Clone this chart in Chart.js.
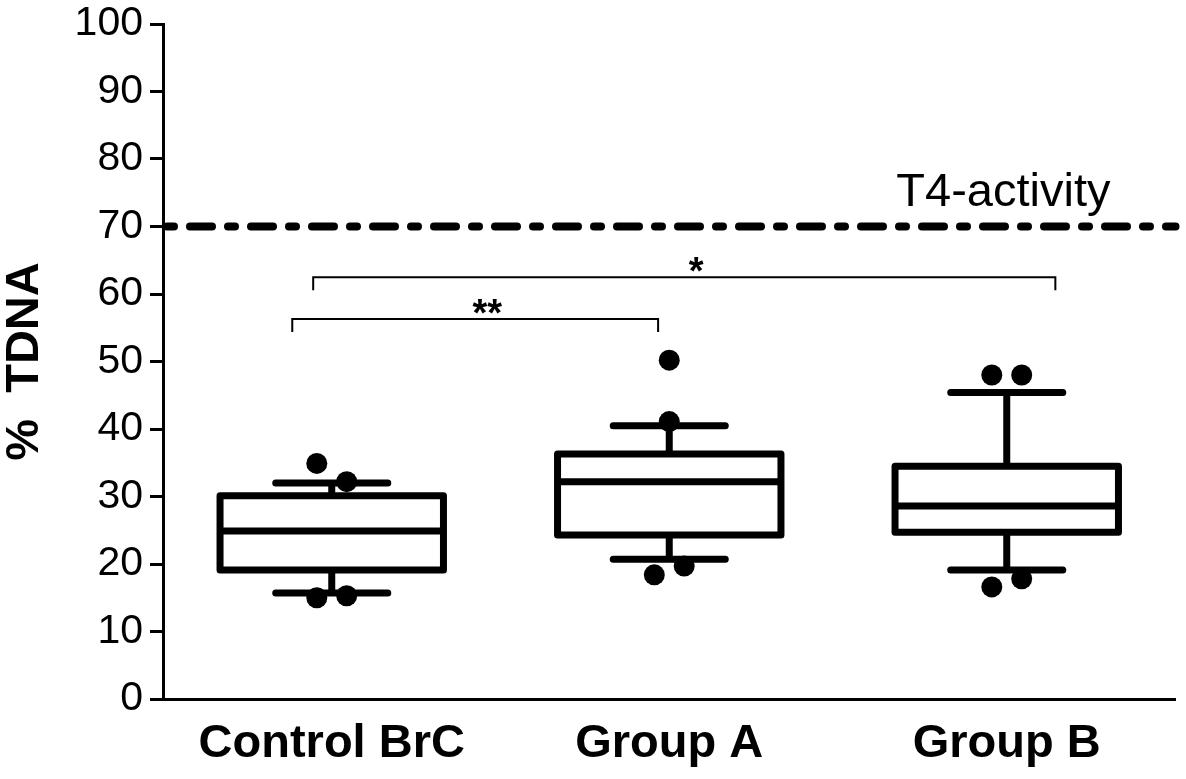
<!DOCTYPE html>
<html>
<head>
<meta charset="utf-8">
<script src="https://cdn.jsdelivr.net/npm/chart.js@4/dist/chart.umd.min.js"></script>
<style>
  html, body { margin: 0; padding: 0; background: #fff; }
  #wrap { width: 1186px; height: 779px; }
</style>
</head>
<body>
<div id="wrap"><canvas id="chart"></canvas></div>
<script>
// ── Data ────────────────────────────────────────────────────────────
const groups      = ['Control BrC', 'Group A', 'Group B'];
const whiskerLow  = [15.7, 20.7, 19.1];
const q1          = [19.1, 24.3, 24.7];
const median      = [24.9, 32.2, 28.6];
const q3          = [30.1, 36.3, 34.5];
const whiskerHigh = [32.0, 40.5, 45.4];
// points beyond the whiskers, listed left to right
const pointsHigh  = [[34.9, 32.2], [50.2, 41.1], [48.0, 48.0]];
const pointsLow   = [[15.0, 15.3], [18.4, 19.7], [16.6, 17.8]];

const yMin = 0, yMax = 100, yStep = 10;
const t4Activity = 70;
const t4Label = 'T4-activity';

// significance brackets: group indices, height (% TDNA), label
const brackets = [
  { from: 0, to: 2, y: 62.5, label: '*'  },
  { from: 0, to: 1, y: 56.3, label: '**' },
];

// ── Style ───────────────────────────────────────────────────────────
const FONT   = "'Liberation Sans', Arial, Helvetica, sans-serif";
const INK    = '#000';
const JITTER = 0.0443;          // category units, for dots that overlap
const BOX_HALF = 0.331;         // category units
const CAP_HALF = 0.166;
const BRACKET_INSET = [[-0.055, 0.144], [-0.117, -0.033]]; // category units
const BRACKET_DROP = 13;

function spread(list) {
  const pts = [];
  list.forEach((vals, g) => {
    const close = vals.length === 2 && Math.abs(vals[0] - vals[1]) < 3.5;
    vals.forEach((v, k) => {
      const dx = close ? (k === 0 ? -JITTER : JITTER) : 0;
      pts.push({ x: g + dx, y: v });
    });
  });
  return pts;
}

const dots = [...spread(pointsHigh), ...spread(pointsLow)];

// ── Box + whisker plugin ────────────────────────────────────────────
const boxPlot = {
  id: 'boxPlot',
  beforeDatasetsDraw(chart) {
    const { ctx, scales: { x, y } } = chart;
    const unit = x.getPixelForValue(1) - x.getPixelForValue(0);
    ctx.save();
    ctx.strokeStyle = INK;
    ctx.lineWidth = 7;
    ctx.lineJoin = 'round';
    groups.forEach((g, i) => {
      const cx = x.getPixelForValue(i);
      const bl = cx - BOX_HALF * unit, br = cx + BOX_HALF * unit;
      const yt = y.getPixelForValue(q3[i]), yb = y.getPixelForValue(q1[i]);
      const ym = y.getPixelForValue(median[i]);
      const yh = y.getPixelForValue(whiskerHigh[i]);
      const yl = y.getPixelForValue(whiskerLow[i]);

      ctx.fillStyle = '#fff';
      ctx.fillRect(bl, yt, br - bl, yb - yt);

      ctx.lineCap = 'butt';
      ctx.beginPath();
      ctx.moveTo(cx, yt); ctx.lineTo(cx, yh);
      ctx.moveTo(cx, yb); ctx.lineTo(cx, yl);
      ctx.moveTo(bl, ym); ctx.lineTo(br, ym);
      ctx.stroke();
      ctx.strokeRect(bl, yt, br - bl, yb - yt);

      ctx.lineCap = 'round';
      ctx.beginPath();
      ctx.moveTo(cx - CAP_HALF * unit, yh); ctx.lineTo(cx + CAP_HALF * unit, yh);
      ctx.moveTo(cx - CAP_HALF * unit, yl); ctx.lineTo(cx + CAP_HALF * unit, yl);
      ctx.stroke();
    });
    ctx.restore();
  },
};

// ── Reference line + brackets ───────────────────────────────────────
const annotations = {
  id: 'annotations',
  afterDatasetsDraw(chart) {
    const { ctx, chartArea, scales: { x, y } } = chart;
    ctx.save();

    // T4-activity dash-dot line
    const yl = y.getPixelForValue(t4Activity);
    ctx.strokeStyle = INK;
    ctx.lineWidth = 8;
    ctx.lineCap = 'round';
    ctx.setLineDash([7, 16, 22, 16]);
    ctx.beginPath();
    ctx.moveTo(chartArea.left + 4, yl);
    ctx.lineTo(chartArea.right, yl);
    ctx.stroke();
    ctx.setLineDash([]);

    ctx.fillStyle = INK;
    ctx.font = `47px ${FONT}`;
    ctx.textAlign = 'right';
    ctx.textBaseline = 'alphabetic';
    ctx.fillText(t4Label, chartArea.right - 65, yl - 21);

    // brackets
    ctx.lineWidth = 2;
    ctx.lineCap = 'butt';
    ctx.font = `bold 38px ${FONT}`;
    ctx.textAlign = 'center';
    brackets.forEach((b, k) => {
      const x0 = x.getPixelForValue(b.from + BRACKET_INSET[k][0]);
      const x1 = x.getPixelForValue(b.to + BRACKET_INSET[k][1]);
      const yb = y.getPixelForValue(b.y);
      ctx.beginPath();
      ctx.moveTo(x0, yb + BRACKET_DROP);
      ctx.lineTo(x0, yb);
      ctx.lineTo(x1, yb);
      ctx.lineTo(x1, yb + BRACKET_DROP);
      ctx.stroke();
      ctx.fillText(b.label, (x0 + x1) / 2 + 12, yb + 7);
    });
    ctx.restore();
  },
};

new Chart(document.getElementById('chart'), {
  type: 'scatter',
  data: {
    datasets: [{
      data: dots,
      pointRadius: 10.5,
      pointHoverRadius: 10.5,
      pointBackgroundColor: INK,
      pointBorderWidth: 0,
    }],
  },
  options: {
    responsive: true,
    maintainAspectRatio: false,
    animation: false,
    events: [],
    layout: { padding: { top: 24, right: 0, left: 0, bottom: 0 } },
    plugins: { legend: { display: false }, tooltip: { enabled: false } },
    scales: {
      x: {
        type: 'linear',
        min: -0.5,
        max: 2.5,
        afterBuildTicks: s => { s.ticks = groups.map((_, i) => ({ value: i })); },
        afterFit: s => {
          s.height = 80;
          s.paddingLeft = 0; s.paddingRight = 0;
        },
        grid: { display: false, drawTicks: false },
        border: { display: true, color: INK, width: 3 },
        ticks: {
          autoSkip: false,
          maxRotation: 0,
          padding: 17,
          color: INK,
          font: { family: FONT, size: 47, weight: 'bold' },
          callback: v => groups[v],
        },
      },
      y: {
        min: yMin,
        max: yMax,
        afterFit: s => {
          s.width = 163;
          s.paddingTop = 0; s.paddingBottom = 0;
        },
        grid: {
          drawOnChartArea: false,
          tickLength: 13,
          tickWidth: 3,
          tickColor: INK,
        },
        border: { display: true, color: INK, width: 3 },
        ticks: {
          stepSize: yStep,
          padding: 7,
          color: INK,
          font: { family: FONT, size: 41 },
        },
        title: {
          display: true,
          text: '%  TDNA',
          color: INK,
          padding: { top: 2, bottom: 0 },
          font: { family: FONT, size: 47, weight: 'bold', lineHeight: 1 },
        },
      },
    },
  },
  plugins: [boxPlot, annotations],
});
</script>
</body>
</html>
